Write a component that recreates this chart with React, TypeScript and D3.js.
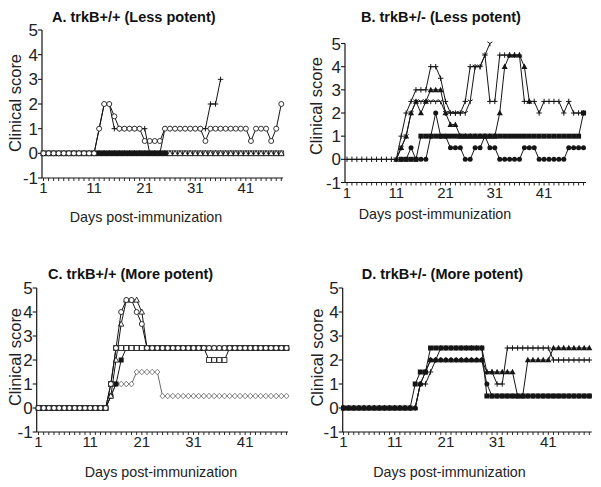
import React from "react";
import * as d3 from "d3";

const FONT = "Arial, 'Liberation Sans', Helvetica, sans-serif";

// ---------- tick labels ----------
const xTickDays = [1, 11, 21, 31, 41];
const yTicks = [-1, 0, 1, 2, 3, 4, 5];

// ---------- Panel A: trkB+/+ (Less potent), days 1..48 ----------
const A_circle = [0,0,0,0,0,0,0,0,0,0,0, 1,2,2,1.5, 1,1,1,1,1, 0.5,0.5,0.5,0.5, 1,1,1,1,1,1,1,1, 0.5, 1,1,1,1,1,1,1,1, 0.5, 1,1,1, 0.5, 1, 2];
const A_plus = [0,0,0,0,0,0,0,0,0,0,0, 1,2,2,1, 1,1,1,1,1,1, 0,0,0, 1,1,1,1,1,1,1,1,1, 2,2,3, null,null,null,null,null,null,null,null,null,null,null,null];
const A_square = [0,0,0,0,0,0,0,0,0,0,0,0,0,0,0,0,0,0,0,0,0,0,0,0,0,0,0,0,0,0,0,0,0,0,0,0,0,0,0,0,0,0,0,0,0,0,0,0];
const A_triangle = [0,0,0,0,0,0,0,0,0,0,0,0,0,0,0,0,0,0,0,0,0,0,0,0,0,0,0,0,0,0,0,0,0,0,0,0,0,0,0,0,0,0,0,0,0,0,0,0];
const A_filled = [null,null,null,null,null,null,null,null,null,null, 0,0,0,0,0,0,0,0,0,0,0,0,0,0,0, null,null,null,null,null,null,null,null,null,null,null,null,null,null,null,null,null,null,null,null,null,null,null];

// ---------- Panel B: trkB+/- (Less potent), days 1..49 ----------
const B_plus = [0,0,0,0,0,0,0,0,0,0,0, 1,2,2.5,3,3,3,4,4,3.5,2.5, 2,2,2, 2.5, 4,4,4, 4.5, 2.5,2.5, 4.5,4.5,4.5,4.5,4.5, 2.5,2.5,2.5, 2, 2.5,2.5,2.5,2.5, 2, 2.5, 2,2,2];
const B_star = [null,null,null,null,null,null,null,null,null,null, 0, 0.5,1,2,2.5,2.5,2.5,2.5,2.5,2.5, 2,2,2,2,2, 2.5, 4,4, 4.5, 5, null,null,null,null,null,null,null,null,null,null,null,null,null,null,null,null,null,null,null];
const B_triangle = [null,null,null,null,null,null,null,null,null,null, 0, 0.5,1,2,2.5,2,2.5,3,3,3, 2,1.5,1.5, 1,1,1,1,1,1,1,1, 2,4,4.5,4.5,4.5,4,2.5, null,null,null,null,null,null,null,null,null,null,null];
const B_square = [null,null,null,null,null,null,null,null,null,null,null, 0,0,0,0, 1,1,1,1,1,1,1,1,1,1,1,1,1,1,1,1,1,1,1,1,1,1,1,1,1,1,1,1,1,1,1,1,1, 2];
const B_circle = [null,null,null,null,null,null,null,null,null,null,null, 0,0,0.5,0,0,0, 1,2,1,1, 0.5,0.5,0.5, 0,0, 0.5,0.5, 1, 0.5,0.5, 0,0,0,0,0, 0.5,0.5,0.5, 0,0,0,0,0,0, 0.5,0.5,0.5,0.5];

// ---------- Panel C: trkB+/+ (More potent), days 1..49 ----------
const C_circle = [0,0,0,0,0,0,0,0,0,0,0,0,0,0, 1,2.5,4,4.5,4.5,4,3.5, 2.5,2.5,2.5,2.5,2.5,2.5,2.5,2.5,2.5,2.5,2.5,2.5,2.5,2.5,2.5,2.5,2.5,2.5,2.5,2.5,2.5,2.5,2.5,2.5,2.5,2.5,2.5,2.5];
const C_triangle = [0,0,0,0,0,0,0,0,0,0,0,0,0,0, 0.5,2,3.5,4.5,4.5,4.5,4, 2.5,2.5,2.5,2.5,2.5,2.5,2.5,2.5,2.5,2.5,2.5,2.5,2.5,2.5,2.5,2.5,2.5,2.5,2.5,2.5,2.5,2.5,2.5,2.5,2.5,2.5,2.5,2.5];
const C_square = [0,0,0,0,0,0,0,0,0,0,0,0,0,0, 1,2.5, 2.5,2.5,2.5,2.5,2.5,2.5,2.5,2.5,2.5,2.5,2.5,2.5,2.5,2.5,2.5,2.5,2.5, 2,2,2,2, 2.5,2.5,2.5,2.5,2.5,2.5,2.5,2.5,2.5,2.5,2.5,2.5];
const C_filled = [0,0,0,0,0,0,0,0,0,0,0,0,0,0, 0.5,1,2, 2.5,2.5,2.5,2.5,2.5,2.5,2.5,2.5,2.5,2.5,2.5,2.5,2.5,2.5,2.5,2.5,2.5,2.5,2.5,2.5,2.5,2.5,2.5,2.5,2.5,2.5,2.5,2.5,2.5,2.5,2.5,2.5];
const C_diamond = [0,0,0,0,0,0,0,0,0,0,0,0,0,0, 0.5, 1,1,1,1, 1.5,1.5,1.5,1.5,1.5, 0.5,0.5,0.5,0.5,0.5,0.5,0.5,0.5,0.5,0.5,0.5,0.5,0.5,0.5,0.5,0.5,0.5,0.5,0.5,0.5,0.5,0.5,0.5,0.5,0.5];

// ---------- Panel D: trkB+/- (More potent), days 1..49 ----------
const D_square = [0,0,0,0,0,0,0,0,0,0,0,0,0,0, 1,1.5,1.5, 2.5,2.5,2.5,2.5,2.5,2.5,2.5,2.5,2.5,2.5,2.5, 0.5,0.5,0.5,0.5,0.5,0.5,0.5,0.5,0.5,0.5,0.5,0.5,0.5,0.5,0.5,0.5,0.5,0.5,0.5,0.5,0.5];
const D_triangle = [0,0,0,0,0,0,0,0,0,0,0,0,0,0,0, 1,1.5, 2,2,2,2,2,2,2,2,2,2,2, 1.5,1.5,1.5,1.5,1.5,1.5, 0.5,0.5, 2,2,2,2,2, 2.5,2.5,2.5,2.5,2.5,2.5,2.5,2.5];
const D_plus = [0,0,0,0,0,0,0,0,0,0,0,0,0,0,0, 1,1,1.5,2, 2.5,2.5,2.5,2.5,2.5,2.5,2.5,2.5,2.5, 1.5,1.5, 1,1, 2.5,2.5,2.5,2.5,2.5,2.5,2.5,2.5,2.5, 2,2,2,2,2,2,2,2];
const D_circle = [0,0,0,0,0,0,0,0,0,0,0,0,0,0,0, 1,1.5, 2,2,2,2,2,2,2,2,2,2,2, 1, 0.5,0.5,0.5,0.5,0.5,0.5,0.5,0.5,0.5,0.5,0.5,0.5,0.5,0.5,0.5,0.5,0.5,0.5,0.5,0.5];

type Val = number | null;
type MarkerType = "circle" | "square" | "triangle" | "diamond" | "plus" | "star" | "circleFilled" | "squareFilled" | "triangleFilled";
interface Series { values: Val[]; marker: MarkerType; color: string }

const INK = "#151515";

function Marker({ type, x, y, color }: { type: MarkerType; x: number; y: number; color: string }) {
  const sw = 0.85;
  switch (type) {
    case "circle":
      return <circle cx={x} cy={y} r={2.5} fill="#fff" stroke={color} strokeWidth={sw} />;
    case "circleFilled":
      return <circle cx={x} cy={y} r={2.5} fill={color} />;
    case "square":
      return <rect x={x - 2.4} y={y - 2.4} width={4.8} height={4.8} fill="#fff" stroke={color} strokeWidth={sw} />;
    case "squareFilled":
      return <rect x={x - 2.5} y={y - 2.5} width={5} height={5} fill={color} />;
    case "triangle":
      return <path d={`M${x},${y - 2.9}L${x + 2.7},${y + 2.1}L${x - 2.7},${y + 2.1}Z`} fill="#fff" stroke={color} strokeWidth={sw} />;
    case "triangleFilled":
      return <path d={`M${x},${y - 3.2}L${x + 3},${y + 2.3}L${x - 3},${y + 2.3}Z`} fill={color} />;
    case "diamond":
      return <path d={`M${x},${y - 2.8}L${x + 2.6},${y}L${x},${y + 2.8}L${x - 2.6},${y}Z`} fill="#fff" stroke={color} strokeWidth={sw} />;
    case "plus":
      return <path d={`M${x - 2.7},${y}H${x + 2.7}M${x},${y - 2.7}V${y + 2.7}`} stroke={color} strokeWidth={1} fill="none" />;
    case "star":
      return <path d={`M${x},${y}V${y + 2.8}M${x},${y}L${x - 2.5},${y - 1.7}M${x},${y}L${x + 2.5},${y - 1.7}`} stroke={color} strokeWidth={1} fill="none" />;
  }
  return null;
}

interface PanelCfg {
  title: string; titleX: number; titleY: number;
  axisX: number; axisEnd: number; yTop: number; yBot: number;
  x1: number; xN: number; nDays: number;
  yLabelX: number; yLabelY: number;
  xLabelX: number; xLabelY: number;
  series: Series[];
}

function Panel({ cfg }: { cfg: PanelCfg }) {
  const x = d3.scaleLinear().domain([1, cfg.nDays]).range([cfg.x1, cfg.xN]);
  const y = d3.scaleLinear().domain([-1, 5]).range([cfg.yBot, cfg.yTop]);
  const line = d3
    .line<Val>()
    .defined((v) => v != null)
    .x((_, i) => x(i + 1))
    .y((v) => y(v as number));
  const days = d3.range(1, cfg.nDays + 1);
  const axisY = y(-1);
  return (
    <g>
      <text x={cfg.titleX} y={cfg.titleY} fontFamily={FONT} fontWeight="bold" fontSize={14.5} fill="#111">
        {cfg.title}
      </text>
      {/* y axis */}
      <line x1={cfg.axisX} x2={cfg.axisX} y1={y(5)} y2={axisY} stroke={INK} strokeWidth={1.2} />
      {yTicks.map((t) => (
        <g key={t}>
          <line x1={cfg.axisX - 4} x2={cfg.axisX} y1={y(t)} y2={y(t)} stroke={INK} strokeWidth={1.1} />
          <text x={cfg.axisX - 4} y={y(t)} dy="0.36em" textAnchor="end" fontFamily={FONT} fontSize={17} fill="#222">
            {t}
          </text>
        </g>
      ))}
      {/* x axis */}
      <line x1={cfg.axisX} x2={cfg.axisEnd} y1={axisY} y2={axisY} stroke={INK} strokeWidth={1.2} />
      {days.map((d) => (
        <line key={d} x1={x(d)} x2={x(d)} y1={axisY} y2={axisY + 3} stroke={INK} strokeWidth={0.9} />
      ))}
      {xTickDays.map((d) => (
        <text key={d} x={x(d)} y={axisY + 15} textAnchor="middle" fontFamily={FONT} fontSize={15} fill="#222">
          {d}
        </text>
      ))}
      <text
        transform={`translate(${cfg.yLabelX},${cfg.yLabelY}) rotate(-90)`}
        textAnchor="middle"
        fontFamily={FONT}
        fontSize={16.5}
        fill="#222"
      >
        Clinical score
      </text>
      <text x={cfg.xLabelX} y={cfg.xLabelY} textAnchor="middle" fontFamily={FONT} fontSize={14.3} fill="#222">
        Days post-immunization
      </text>
      {/* series */}
      {cfg.series.map((s, si) => (
        <g key={si}>
          <path d={line(s.values) || ""} fill="none" stroke={s.color} strokeWidth={1} />
          {s.values.map((v, i) =>
            v == null ? null : <Marker key={i} type={s.marker} x={x(i + 1)} y={y(v)} color={s.color} />
          )}
        </g>
      ))}
    </g>
  );
}

const panels: PanelCfg[] = [
  {
    title: "A. trkB+/+ (Less potent)", titleX: 52, titleY: 22,
    axisX: 42, axisEnd: 283, yTop: 30, yBot: 178,
    x1: 43.5, xN: 281.3, nDays: 48,
    yLabelX: 20.5, yLabelY: 103, xLabelX: 146, xLabelY: 222,
    series: [
      { values: A_square, marker: "square", color: INK },
      { values: A_triangle, marker: "triangle", color: INK },
      { values: A_filled, marker: "squareFilled", color: INK },
      { values: A_plus, marker: "plus", color: INK },
      { values: A_circle, marker: "circle", color: INK },
    ],
  },
  {
    title: "B. trkB+/- (Less potent)", titleX: 361, titleY: 22,
    axisX: 345, axisEnd: 586, yTop: 43.5, yBot: 182.5,
    x1: 347, xN: 583.5, nDays: 49,
    yLabelX: 321.5, yLabelY: 106, xLabelX: 435, xLabelY: 218.5,
    series: [
      { values: B_circle, marker: "circleFilled", color: INK },
      { values: B_square, marker: "squareFilled", color: INK },
      { values: B_triangle, marker: "triangleFilled", color: INK },
      { values: B_star, marker: "star", color: INK },
      { values: B_plus, marker: "plus", color: INK },
    ],
  },
  {
    title: "C. trkB+/+ (More potent)", titleX: 48, titleY: 279,
    axisX: 36.7, axisEnd: 288, yTop: 288, yBot: 432,
    x1: 38.5, xN: 286.5, nDays: 49,
    yLabelX: 20.5, yLabelY: 357, xLabelX: 161, xLabelY: 477,
    series: [
      { values: C_diamond, marker: "diamond", color: "#6a6a6a" },
      { values: C_filled, marker: "squareFilled", color: INK },
      { values: C_square, marker: "square", color: INK },
      { values: C_triangle, marker: "triangle", color: INK },
      { values: C_circle, marker: "circle", color: INK },
    ],
  },
  {
    title: "D. trkB+/- (More potent)", titleX: 361.7, titleY: 279,
    axisX: 342.7, axisEnd: 591.7, yTop: 288, yBot: 432,
    x1: 343.5, xN: 589.3, nDays: 49,
    yLabelX: 322.5, yLabelY: 357.5, xLabelX: 449.5, xLabelY: 477,
    series: [
      { values: D_circle, marker: "circleFilled", color: INK },
      { values: D_plus, marker: "plus", color: INK },
      { values: D_triangle, marker: "triangleFilled", color: INK },
      { values: D_square, marker: "squareFilled", color: INK },
    ],
  },
];

export default function App() {
  return (
    <svg
      width={601}
      height={487}
      viewBox="0 0 601 487"
      style={{ position: "absolute", left: 0, top: 0, background: "#fff" }}
    >
      <rect x={0} y={0} width={601} height={487} fill="#fff" />
      {panels.map((p, i) => (
        <Panel key={i} cfg={p} />
      ))}
    </svg>
  );
}
